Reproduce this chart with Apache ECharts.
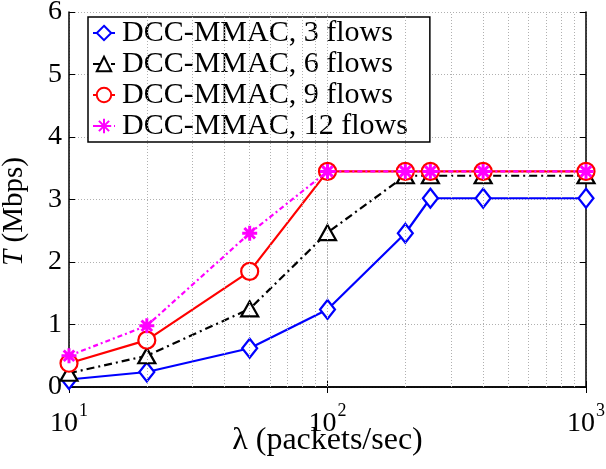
<!DOCTYPE html>
<html>
<head>
<meta charset="utf-8">
<script src="https://cdn.jsdelivr.net/npm/echarts@6/dist/echarts.min.js"></script>
<style>
  html, body { margin: 0; padding: 0; background: #fff; }
  #chart { width: 606px; height: 469px; }
</style>
</head>
<body>
<div id="chart"></div>
<script>
// Offered load (packets/sec) and throughput (Mbps) per number of flows
const lambdaValues = [10, 20, 50, 100, 200, 250, 400, 1000];
const flows3  = [0.12, 0.24, 0.62, 1.24, 2.46, 3.02, 3.02, 3.02];
const flows6  = [0.22, 0.50, 1.25, 2.47, 3.38, 3.38, 3.38, 3.38];
const flows9  = [0.38, 0.75, 1.85, 3.45, 3.45, 3.45, 3.45, 3.45];
const flows12 = [0.50, 0.98, 2.46, 3.45, 3.45, 3.45, 3.45, 3.45];
const seriesNames = ['DCC-MMAC, 3 flows', 'DCC-MMAC, 6 flows', 'DCC-MMAC, 9 flows', 'DCC-MMAC, 12 flows'];
const yTicks = [0, 1, 2, 3, 4, 5, 6];
const minorGridX = [20, 30, 40, 50, 60, 70, 80, 90, 100, 200, 300, 400, 500, 600, 700, 800, 900];

const FONT = '"Liberation Serif", "DejaVu Serif", serif';
const asterisk = 'path://M0,-10L0,10M-10,0L10,0M-7.07,-7.07L7.07,7.07M-7.07,7.07L7.07,-7.07';

const pairs = ys => lambdaValues.map((x, i) => [x, ys[i]]);

const chart = echarts.init(document.getElementById('chart'), null, { renderer: 'canvas' });

const gridLine = { show: true, lineStyle: { color: '#b0b0b0', type: [1, 2], width: 1 } };
const tickIn = { show: true, inside: true, length: 6, lineStyle: { color: '#000', width: 1 } };

chart.setOption({
  animation: false,
  backgroundColor: '#fff',
  grid: { left: 69, right: 20, top: 12, bottom: 82, containLabel: false, outerBoundsMode: 'none' },
  legend: {
    orient: 'vertical',
    left: 88, top: 17,
    padding: [1, 22, 1, 4],
    itemGap: 1,
    itemWidth: 22, itemHeight: 18,
    backgroundColor: '#fff',
    borderColor: '#000', borderWidth: 1.5,
    textStyle: { fontFamily: FONT, fontSize: 30, color: '#000', padding: [0, 0, 0, 2] },
    data: seriesNames
  },
  xAxis: [{
    type: 'log', logBase: 10, min: 10, max: 1000,
    axisLine: { show: true, lineStyle: { color: '#000', width: 1.5 } },
    axisTick: tickIn,
    minorTick: { show: false },
    splitLine: gridLine,
    axisLabel: {
      margin: 15,
      formatter: v => '{b|10}{s|' + Math.round(Math.log10(v)) + '}',
      rich: {
        b: { fontFamily: FONT, fontSize: 28, color: '#000' },
        s: { fontFamily: FONT, fontSize: 18, color: '#000', padding: [0, 0, 26, 1] }
      }
    },
    name: 'λ (packets/sec)',
    nameLocation: 'middle', nameGap: 38, nameMoveOverlap: false,
    nameTextStyle: { fontFamily: FONT, fontSize: 32, color: '#000' }
  }, {
    type: 'log', logBase: 10, min: 10, max: 1000, position: 'top',
    axisLine: { show: true, lineStyle: { color: '#000', width: 1.5 } },
    axisTick: tickIn, axisLabel: { show: false }, splitLine: { show: false }
  }],
  yAxis: [{
    type: 'value', min: 0, max: 6, interval: 1,
    axisLine: { show: true, lineStyle: { color: '#000', width: 1.5 } },
    axisTick: tickIn,
    splitLine: gridLine,
    axisLabel: {
      margin: 7,
      formatter: v => yTicks.includes(v) ? String(v) : '',
      fontFamily: FONT, fontSize: 28, color: '#000'
    },
    name: '{i|T} (Mbps)',
    nameLocation: 'middle', nameGap: 40, nameRotate: 90, nameMoveOverlap: false,
    nameTextStyle: {
      fontFamily: FONT, fontSize: 29, color: '#000', padding: [0, 24, 0, 0],
      rich: { i: { fontFamily: FONT, fontSize: 29, fontStyle: 'italic', color: '#000' } }
    }
  }, {
    type: 'value', min: 0, max: 6, interval: 1, position: 'right',
    axisLine: { show: true, lineStyle: { color: '#000', width: 1.5 } },
    axisTick: tickIn, axisLabel: { show: false }, splitLine: { show: false }
  }],
  series: [{
    name: seriesNames[0], type: 'line', data: pairs(flows3),
    symbol: 'diamond', symbolSize: [15, 19],
    lineStyle: { color: '#0000ff', width: 2.2 },
    itemStyle: { color: '#fff', borderColor: '#0000ff', borderWidth: 2.2 },
    z: 2,
    markLine: {
      silent: true, symbol: 'none', label: { show: false },
      lineStyle: { color: '#b0b0b0', type: [1, 2], width: 1 },
      data: minorGridX.map(v => ({ xAxis: v }))
    }
  }, {
    name: seriesNames[1], type: 'line', data: pairs(flows6),
    symbol: 'triangle', symbolSize: [17, 15],
    lineStyle: { color: '#000', width: 2.2, type: [8, 4, 2, 4] },
    itemStyle: { color: '#fff', borderColor: '#000', borderWidth: 2.2 },
    z: 3
  }, {
    name: seriesNames[2], type: 'line', data: pairs(flows9),
    symbol: 'circle', symbolSize: 17,
    lineStyle: { color: '#ff0000', width: 2.2 },
    itemStyle: { color: '#fff', borderColor: '#ff0000', borderWidth: 2.2 },
    z: 4
  }, {
    name: seriesNames[3], type: 'line', data: pairs(flows12),
    symbol: asterisk, symbolSize: 15,
    lineStyle: { color: '#ff00ff', width: 2.2, type: [5, 3, 2, 3] },
    itemStyle: { color: '#ff00ff', borderColor: '#ff00ff', borderWidth: 3 },
    z: 5
  }]
});
</script>
</body>
</html>
